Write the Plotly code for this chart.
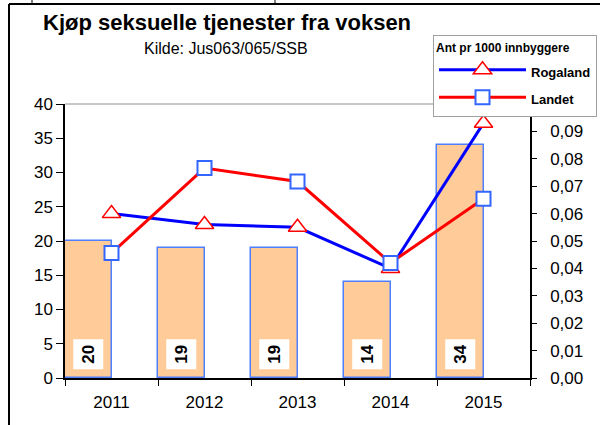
import plotly.graph_objects as go

years = ["2011", "2012", "2013", "2014", "2015"]
counts = [20, 19, 19, 14, 34]
rogaland = [0.060, 0.056, 0.055, 0.040, 0.093]
landet = [0.0456, 0.0766, 0.0717, 0.042, 0.0654]
rate_ticks = [0.00, 0.01, 0.02, 0.03, 0.04, 0.05, 0.06, 0.07, 0.08, 0.09]

title = "Kjøp seksuelle tjenester fra voksen"
subtitle = "Kilde: Jus063/065/SSB"
legend_title = "Ant pr 1000 innbyggere"

W, H = 600, 425
ML, MR, MT, MB = 65, 70, 104, 47
PW, PH = W - ML - MR, H - MT - MB
FONT = "Liberation Sans, Arial, sans-serif"


def px2x(px):
    return (px - ML) / PW


def py2y(py):
    return (H - MB - py) / PH


fig = go.Figure()
fig.add_trace(go.Bar(
    x=years, y=counts, width=0.5, offset=-0.5,
    marker=dict(color="#FFCC99", line=dict(color="#4D7FFF", width=1.5)),
    showlegend=False, hoverinfo="skip",
))
fig.add_trace(go.Scatter(
    x=years, y=rogaland, yaxis="y2", name="<span style='font-size:13px'><b>Rogaland</b></span>",
    mode="lines+markers", legendgroup="a",
    line=dict(color="#0000FF", width=3),
    marker=dict(symbol="triangle-up", size=16, color="white",
                line=dict(color="#FF0000", width=1.5)),
))
fig.add_trace(go.Scatter(
    x=years, y=landet, yaxis="y2", name="<span style='font-size:13px'><b>Landet</b></span>",
    mode="lines+markers", legendgroup="b",
    line=dict(color="#FF0000", width=3),
    marker=dict(symbol="square", size=14, color="white",
                line=dict(color="#3366FF", width=2)),
))

cat_w = PW / len(years)
annotations = [
    dict(text=f"<b>{v}</b>", x=i, y=0, xref="x", yref="y", yanchor="bottom",
         xanchor="center", xshift=-cat_w / 4, yshift=8, textangle=-90, showarrow=False,
         bgcolor="white", borderpad=5, font=dict(size=17, color="black", family=FONT))
    for i, v in enumerate(counts)
]
annotations += [
    dict(text=f"<b>{title}</b>", x=px2x(227), y=py2y(22), xref="paper", yref="paper",
         xanchor="center", yanchor="middle",
         showarrow=False, font=dict(size=22, color="black", family=FONT)),
    dict(text=subtitle, x=px2x(226), y=py2y(48), xref="paper", yref="paper",
         xanchor="center", yanchor="middle",
         showarrow=False, font=dict(size=16, color="black", family=FONT)),
]

shapes = [
    dict(type="line", xref="paper", yref="paper", x0=0, x1=1, y0=1, y1=1,
         line=dict(color="#909090", width=1)),
    dict(type="line", xref="paper", yref="paper", x0=px2x(9), x1=px2x(9),
         y0=py2y(4), y1=py2y(440), line=dict(color="black", width=2)),
    dict(type="line", xref="paper", yref="paper", x0=px2x(9), x1=px2x(620),
         y0=py2y(4), y1=py2y(4), line=dict(color="black", width=2)),
    dict(type="line", xref="paper", yref="paper", x0=px2x(32), x1=px2x(32),
         y0=py2y(-5), y1=py2y(4), line=dict(color="black", width=1)),
    dict(type="line", xref="paper", yref="paper", x0=px2x(275), x1=px2x(275),
         y0=py2y(-5), y1=py2y(4), line=dict(color="black", width=1)),
]

fig.update_layout(
    width=W, height=H, margin=dict(l=ML, r=MR, t=MT, b=MB, autoexpand=False),
    paper_bgcolor="white", plot_bgcolor="white",
    font=dict(family=FONT, size=17, color="black"),
    separators=", ",
    xaxis=dict(type="category", range=[-0.5, 4.5], tickson="boundaries",
               ticks="outside", ticklen=6, tickcolor="black", showline=True,
               linecolor="black", linewidth=1.5, showgrid=False,
               ticklabelstandoff=8, tickfont=dict(size=17)),
    yaxis=dict(range=[0, 40], dtick=5, ticks="outside", ticklen=7, tickcolor="black",
               showline=True, linecolor="black", linewidth=1.5, showgrid=False,
               zeroline=False, tickfont=dict(size=17)),
    yaxis2=dict(range=[0, 0.1], tickvals=rate_ticks, tickformat=".2f", overlaying="y",
                side="right", ticks="outside", ticklen=5, tickcolor="black",
                showline=True, linecolor="black", linewidth=1.5, showgrid=False,
                zeroline=False, ticklabelstandoff=10, tickfont=dict(size=17)),
    legend=dict(xref="container", yref="container", x=433 / W, y=1 - 35 / H,
                xanchor="left", yanchor="top",
                bgcolor="white", bordercolor="#A0A0A0", borderwidth=1,
                font=dict(size=18, family=FONT, color="black"),
                title=dict(text=f"<b>{legend_title}</b>", font=dict(size=12)),
                itemwidth=87, tracegroupgap=1),
    annotations=annotations, shapes=shapes,
    bargap=0,
)

fig.write_html("out.html", config={"displayModeBar": False},
               post_script="document.body.style.margin='0px';")
